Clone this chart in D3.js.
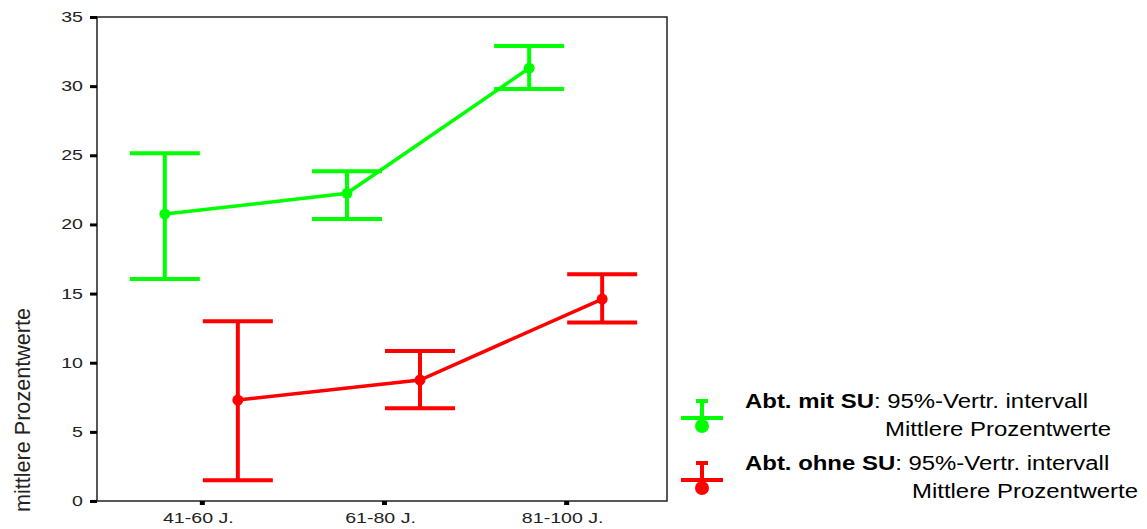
<!DOCTYPE html>
<html><head><meta charset="utf-8">
<script src="https://cdn.jsdelivr.net/npm/d3@7"></script>
<style>body{margin:0;background:#fff}svg{display:block}</style>
</head><body>
<svg id="c" width="1147" height="529"></svg>
<script>
const categories = ["41-60 J.", "61-80 J.", "81-100 J."];
const greenMean = [20.75, 22.25, 31.3];
const greenLow  = [16.05, 20.4, 29.8];
const greenHigh = [25.15, 23.85, 32.9];
const redMean = [7.3, 8.75, 14.6];
const redLow  = [1.5, 6.7, 12.9];
const redHigh = [13.0, 10.85, 16.4];
const yTicks = [0, 5, 10, 15, 20, 25, 30, 35];

const svg = d3.select("#c");
const L = 97, R = 667, T = 17, B = 501;
const x = d3.scalePoint().domain(categories).range([L + 1, R + 3]).padding(0.57);
const y = d3.scaleLinear().domain([0, 35]).range([B, T]);
const FONT = "Liberation Sans, Arial, sans-serif";
const SX = 1.4; // horizontal stretch of tick labels

// frame
svg.append("rect").attr("x", L).attr("y", T).attr("width", R - L).attr("height", B - T)
  .attr("fill", "none").attr("stroke", "#222").attr("stroke-width", 1.5);

// y axis
const yAxis = d3.axisLeft(y).tickValues(yTicks).tickSize(7).tickPadding(0);
const gy = svg.append("g").attr("transform", `translate(${L},0)`).call(yAxis);
gy.select(".domain").remove();
gy.selectAll(".tick line").attr("stroke", "#000").attr("stroke-width", 3);
gy.selectAll(".tick text").attr("font-family", FONT).attr("font-size", 14).attr("fill", "#222")
  .attr("x", -14 / SX).attr("transform", `scale(${SX},1)`);

// x axis
const xAxis = d3.axisBottom(x).tickSize(4).tickPadding(0);
const gx = svg.append("g").attr("transform", `translate(0,${B})`).call(xAxis);
gx.select(".domain").remove();
gx.selectAll(".tick line").attr("stroke", "#000").attr("stroke-width", 5);
gx.selectAll(".tick text").attr("font-family", FONT).attr("font-size", 14).attr("fill", "#222")
  .attr("dy", null).attr("y", 22).attr("x", -4 / SX).attr("transform", `scale(${SX},1)`);

// y label
svg.append("text").attr("transform", "translate(30,410) rotate(-90)")
  .attr("text-anchor", "middle").attr("font-family", "Liberation Sans Narrow, Arial Narrow, Liberation Sans, sans-serif")
  .attr("font-size", 22).attr("fill", "#222")
  .attr("textLength", 204).attr("lengthAdjust", "spacingAndGlyphs")
  .text("mittlere Prozentwerte");

function series(mean, low, high, color, off) {
  const g = svg.append("g");
  const px = (d, i) => x(categories[i]) + off;
  const capW = 35;
  const line = d3.line().x((d, i) => px(d, i)).y(d => y(d));
  g.append("path").datum(mean).attr("d", line).attr("fill", "none")
    .attr("stroke", color).attr("stroke-width", 3.5);
  mean.forEach((m, i) => {
    const cx = px(m, i);
    g.append("line").attr("x1", cx).attr("x2", cx).attr("y1", y(low[i])).attr("y2", y(high[i]))
      .attr("stroke", color).attr("stroke-width", 4);
    [low[i], high[i]].forEach(v => {
      g.append("line").attr("x1", cx - capW).attr("x2", cx + capW).attr("y1", y(v)).attr("y2", y(v))
        .attr("stroke", color).attr("stroke-width", 4);
    });
    g.append("circle").attr("cx", cx).attr("cy", y(m)).attr("r", 5.5).attr("fill", color);
  });
}
series(greenMean, greenLow, greenHigh, "#00ff00", -37);
series(redMean, redLow, redHigh, "#ff0000", 36);

// legend
const LSX = 1.14;
function legendItem(color, top, bold, indentX) {
  const g = svg.append("g");
  g.append("line").attr("x1", 702).attr("x2", 702).attr("y1", top).attr("y2", top + 18)
    .attr("stroke", color).attr("stroke-width", 4);
  g.append("line").attr("x1", 696).attr("x2", 708).attr("y1", top).attr("y2", top)
    .attr("stroke", color).attr("stroke-width", 4);
  g.append("line").attr("x1", 681).attr("x2", 723).attr("y1", top + 17).attr("y2", top + 17)
    .attr("stroke", color).attr("stroke-width", 4);
  g.append("circle").attr("cx", 702).attr("cy", top + 25).attr("r", 7).attr("fill", color);
  const tg = g.append("g").attr("transform", `translate(745,${top + 7}) scale(${LSX},1)`)
    .attr("font-family", FONT).attr("font-size", 21).attr("fill", "#000");
  const t = tg.append("text");
  t.append("tspan").attr("font-weight", "bold").text(bold);
  t.append("tspan").text(": 95%-Vertr. intervall");
  tg.append("text").attr("x", (indentX - 745) / LSX).attr("y", 28)
    .text("Mittlere Prozentwerte");
}
legendItem("#00ff00", 401, "Abt. mit SU", 885);
legendItem("#ff0000", 463, "Abt. ohne SU", 912);
</script>
</body></html>
